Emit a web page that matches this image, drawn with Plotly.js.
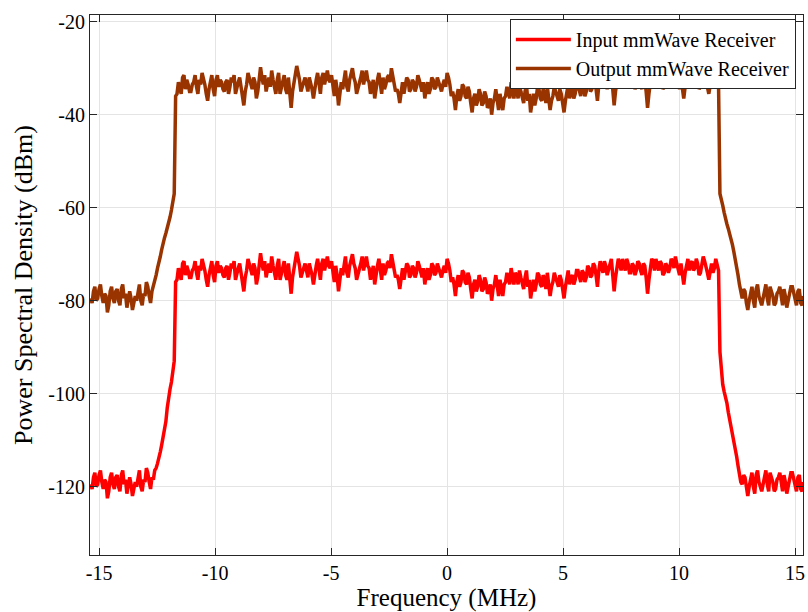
<!DOCTYPE html>
<html>
<head>
<meta charset="utf-8">
<script src="https://cdn.plot.ly/plotly-3.0.1.min.js"></script>
<style>html,body{margin:0;padding:0;background:#fff;}#chart{width:808px;height:612px;}</style>
</head>
<body>
<div id="chart"></div>
<script>
// Frequency grid (MHz): first sample and spacing
var freqStart = -15.36;
var freqStep = 0.06;

var seriesNames = ["Input mmWave Receiver", "Output mmWave Receiver"];

// Input mmWave Receiver PSD (dBm)
var inputPSD = [
// lower noise floor
-119.5,-120.5,-118,-117,-120,-119.5,-117.5,-116.5,-119,-120.5,-118.5,-119,-122.5,-121,-118,-117,-119.5,-120.5,-118,-117.5,-120,-121,-117.5,-116.5,-119.5,-118.5,-121.5,-120,-118,-119.5,-122,-120.5,-119,-120,-117.5,-116.5,-120,-121,-118.5,-119,-116,-117,-119,-120.5,-118,-118.5,
// lower band edge
-116.5,-116,-115,-114,-112.5,-111,-109.5,-108,-106,-103,-100.5,-99,-97.5,-95.5,-93,-76,
// occupied band
-75.5,-73,-74,-75.5,-72,-71.5,-74.5,-72.5,-73.5,-75,-75,-73.5,-73,-71.5,-74,-75.5,-72.5,-73.5,-71,-72,
-73.5,-75.5,-77,-74.5,-73,-71.5,-74.5,-76,-72.5,-71.5,-74,-72.5,-73,-74.5,-75,-73,-72.5,-75.5,-74,-72,
-73,-71.5,-75.5,-74,-73,-72,-74,-76,-78,-75,-73.5,-71,-72,-73.5,-74.5,-72,-73,-76.5,-75,-72.5,
-69.8,-72,-73.5,-71.5,-75,-73.5,-72,-74,-70.5,-72.5,-74,-75.5,-72.5,-71,-75.5,-74,-73,-71.5,-74.5,-75.5,
-72,-74.5,-78.5,-75,-73,-71.5,-69.5,-71,-72.5,-75,-74,-72.5,-72,-73.5,-75,-72,-73,-74.5,-76.5,-74,
-72.5,-71,-74,-75.5,-72,-71,-73.5,-72,-70.5,-72.5,-73,-71.5,-74.5,-76,-72.5,-74.5,-78,-75.5,-73,-74.5,
-72,-70.5,-74,-75,-72.5,-71.5,-70,-72,-73,-75.5,-74.5,-73,-72,-70.5,-73.5,-72,-70.5,-72.5,-73,-75.5,
-74,-72.5,-76.5,-74,-72.5,-71,-74,-75.5,-72,-74.5,-73.5,-72,-71.5,-73,-70,-71.5,-73,-75,-74.5,-75.5,
-77.5,-74.5,-73,-75.5,-74,-72,-72.5,-75,-74.5,-72.5,-73,-75,-74,-71.5,-72.5,-74,-75,-73,-76.5,-74.5,
-73,-75.5,-74.5,-72,-72.5,-74.5,-74,-72,-73,-74.5,-75,-73.5,-72.5,-74,-71,-72,-73.5,-76,-75,-76.5,
-79,-76,-74.5,-77,-76,-73.5,-74,-76,-76.5,-74,-75,-77.5,-79.5,-76.5,-75.5,-78,-77,-74.5,-75.5,-78,
-77.5,-75,-76,-78.5,-78,-76.5,-80,-77.5,-76.5,-74.5,-77.5,-79,-75.5,-77,-79,-76.5,-76,-74,-75,-76.5,
-73,-75,-76.5,-74,-74.5,-76.5,-73.5,-75,-76,-77.5,-75,-73.5,-77,-75.5,-79.5,-77,-75.5,-78,-76.5,-74,
-74.5,-76.5,-77,-74.5,-75.5,-77.5,-74,-76.5,-79,-77,-76,-74,-75,-76.5,-77,-74.5,-75.5,-77.5,-79.5,-77,
-75,-73.5,-76.5,-75,-74.5,-76.5,-75.5,-73.5,-73.5,-75,-76,-73.5,-74,-76,-75,-72.5,-73,-75,-74.5,-72,
-72.5,-74.5,-77,-73.5,-71.5,-73,-74,-71.5,-72.5,-74.5,-73.5,-72,-71,-74.5,-78,-75,-73,-71,-72,-73.5,
-71,-72.5,-73.5,-71,-72,-74,-74,-72,-72.5,-74.5,-73.5,-71.5,-72,-73.5,-74.5,-72,-72.5,-75,-78.5,-75.5,
-73,-71,-71.5,-73.5,-71,-72.5,-73.5,-71.5,-72,-74.5,-74,-72,-72.5,-74,-73,-71,-71.5,-73,-70.5,-72,
-73,-74.5,-72,-74,-76.5,-74,-72.5,-71,-73.5,-72,-71.5,-73.5,-73,-71,-72,-74.5,-74,-72,-70.5,-71.5,
-72.5,-74,-75.5,-73,-72,-74,-73,-71,-72,-73.5,
// upper band edge
-91,-95.5,-98,-99.5,-100.5,-102,-104,-105.5,-107,-108.5,-110,-112,-113.5,-115.5,-117.5,-119,
// upper noise floor
-119.5,-117.5,-118,-120.5,-122,-120,-118.5,-117,-120,-121.5,-117.5,-116.5,-119,-120,-121,-119.5,-118,-116.5,-119.5,-121,-117,-118,-119,-121,-120.5,-118.5,-118,-117,-119.5,-121,-117.5,-119,-121.5,-120,-118.5,-117,-117,-118.5,-119.5,-121,-118,-117.5,-120.5,-121,-119
];

// Output mmWave Receiver PSD (dBm)
var outputPSD = [
// lower noise floor
-79.5,-80.5,-78,-77,-80,-79.5,-77.5,-76.5,-79,-80.5,-78.5,-79,-82.5,-81,-78,-77,-79.5,-80.5,-78,-77.5,-80,-81,-77.5,-76.5,-79.5,-78.5,-81.5,-80,-78,-79.5,-82,-80.5,-79,-80,-77.5,-76.5,-80,-81,-78.5,-79,-76,-77,-79,-80.5,-78,-77,
// lower band edge
-76,-74.5,-73,-72,-70.5,-69,-67.5,-66.5,-65.5,-64.5,-63,-62,-60.5,-59,-57,-36,
// occupied band
-35.5,-33,-34,-35.5,-32,-31.5,-34.5,-32.5,-33.5,-35,-35,-33.5,-33,-31.5,-34,-35.5,-32.5,-33.5,-31,-32,
-33.5,-35.5,-37,-34.5,-33,-31.5,-34.5,-36,-32.5,-31.5,-34,-32.5,-33,-34.5,-35,-33,-32.5,-35.5,-34,-32,
-33,-31.5,-35.5,-34,-33,-32,-34,-36,-38,-35,-33.5,-31,-32,-33.5,-34.5,-32,-33,-36.5,-35,-32.5,
-29.8,-32,-33.5,-31.5,-35,-33.5,-32,-34,-30.5,-32.5,-34,-35.5,-32.5,-31,-35.5,-34,-33,-31.5,-34.5,-35.5,
-32,-34.5,-38.5,-35,-33,-31.5,-29.5,-31,-32.5,-35,-34,-32.5,-32,-33.5,-35,-32,-33,-34.5,-36.5,-34,
-32.5,-31,-34,-35.5,-32,-31,-33.5,-32,-30.5,-32.5,-33,-31.5,-34.5,-36,-32.5,-34.5,-38,-35.5,-33,-34.5,
-32,-30.5,-34,-35,-32.5,-31.5,-30,-32,-33,-35.5,-34.5,-33,-32,-30.5,-33.5,-32,-30.5,-32.5,-33,-35.5,
-34,-32.5,-36.5,-34,-32.5,-31,-34,-35.5,-32,-34.5,-33.5,-32,-31.5,-33,-30,-31.5,-33,-35,-34.5,-35.5,
-37.5,-34.5,-33,-35.5,-34,-32,-32.5,-35,-34.5,-32.5,-33,-35,-34,-31.5,-32.5,-34,-35,-33,-36.5,-34.5,
-33,-35.5,-34.5,-32,-32.5,-34.5,-34,-32,-33,-34.5,-35,-33.5,-32.5,-34,-31,-32,-33.5,-36,-35,-36.5,
-39,-36,-34.5,-37,-36,-33.5,-34,-36,-36.5,-34,-35,-37.5,-39.5,-36.5,-35.5,-38,-37,-34.5,-35.5,-38,
-37.5,-35,-36,-38.5,-38,-36.5,-40,-37.5,-36.5,-34.5,-37.5,-39,-35.5,-37,-39,-36.5,-36,-34,-35,-36.5,
-33,-35,-36.5,-34,-34.5,-36.5,-33.5,-35,-36,-37.5,-35,-33.5,-37,-35.5,-39.5,-37,-35.5,-38,-36.5,-34,
-34.5,-36.5,-37,-34.5,-35.5,-37.5,-34,-36.5,-39,-37,-36,-34,-35,-36.5,-37,-34.5,-35.5,-37.5,-39.5,-37,
-35,-33.5,-36.5,-35,-34.5,-36.5,-35.5,-33.5,-33.5,-35,-36,-33.5,-34,-36,-35,-32.5,-33,-35,-34.5,-32,
-32.5,-34.5,-37,-33.5,-31.5,-33,-34,-31.5,-32.5,-34.5,-33.5,-32,-31,-34.5,-38,-35,-33,-31,-32,-33.5,
-31,-32.5,-33.5,-31,-32,-34,-34,-32,-32.5,-34.5,-33.5,-31.5,-32,-33.5,-34.5,-32,-32.5,-35,-38.5,-35.5,
-33,-31,-31.5,-33.5,-31,-32.5,-33.5,-31.5,-32,-34.5,-34,-32,-32.5,-34,-33,-31,-31.5,-33,-30.5,-32,
-33,-34.5,-32,-34,-36.5,-34,-32.5,-31,-33.5,-32,-31.5,-33.5,-33,-31,-32,-34.5,-34,-32,-30.5,-31.5,
-32.5,-34,-35.5,-33,-32,-34,-33,-31,-32,-33.5,
// upper band edge
-57,-58,-59.5,-61,-62.5,-63.5,-64.5,-65.5,-66.5,-68,-69.5,-71,-72.5,-74.5,-76.5,-78.5,
// upper noise floor
-79.5,-77.5,-78,-80.5,-82,-80,-78.5,-77,-80,-81.5,-77.5,-76.5,-79,-80,-81,-79.5,-78,-76.5,-79.5,-81,-77,-78,-79,-81,-80.5,-78.5,-78,-77,-79.5,-81,-77.5,-79,-81.5,-80,-78.5,-77,-77,-78.5,-79.5,-81,-78,-77.5,-80.5,-81,-79
];

var xTickVals = [-15, -10, -5, 0, 5, 10, 15];
var xTickText = ["-15", "-10", "-5", "0", "5", "10", "15"];
var yTickVals = [-120, -100, -80, -60, -40, -20];
var yTickText = ["-120", "-100", "-80", "-60", "-40", "-20"];

var FONT = "Liberation Serif";
var AX = "#262626";

var traces = [
  {type: "scatter", mode: "lines", name: seriesNames[0], x0: freqStart, dx: freqStep, y: inputPSD,
   line: {color: "#ff0000", width: 3.5}},
  {type: "scatter", mode: "lines", name: seriesNames[1], x0: freqStart, dx: freqStep, y: outputPSD,
   line: {color: "#993300", width: 3.5}}
];

var layout = {
  width: 808, height: 612,
  margin: {l: 90, r: 5, t: 15, b: 57},
  paper_bgcolor: "#ffffff", plot_bgcolor: "#ffffff",
  font: {family: FONT, size: 20, color: "#000"},
  showlegend: true,
  legend: {x: 0.990, y: 0.9926, xanchor: "right", yanchor: "top",
    bgcolor: "#ffffff", bordercolor: AX, borderwidth: 1,
    font: {family: FONT, size: 20, color: "#000"}, itemwidth: 55, tracegroupgap: 0},
  xaxis: {
    range: [-15.39, 15.34], tickvals: xTickVals, ticktext: xTickText,
    ticks: "inside", ticklen: 7, tickcolor: AX, tickwidth: 1,
    showline: true, linecolor: AX, linewidth: 1, mirror: "ticks",
    showgrid: true, gridcolor: "#e4e4e4", gridwidth: 1, zeroline: false,
    tickfont: {family: FONT, size: 20, color: "#000"},
    title: {text: "Frequency (MHz)", font: {family: FONT, size: 25, color: "#000"}, standoff: 4}
  },
  yaxis: {
    range: [-134.7, -18.55], tickvals: yTickVals, ticktext: yTickText,
    ticks: "inside", ticklen: 7, tickcolor: AX, tickwidth: 1,
    showline: true, linecolor: AX, linewidth: 1, mirror: "ticks",
    showgrid: true, gridcolor: "#e4e4e4", gridwidth: 1, zeroline: false,
    tickfont: {family: FONT, size: 20, color: "#000"},
    title: {text: "Power Spectral Density (dBm)", font: {family: FONT, size: 26, color: "#000"}, standoff: 8}
  }
};

Plotly.newPlot("chart", traces, layout, {staticPlot: true, displayModeBar: false});
</script>
</body>
</html>
